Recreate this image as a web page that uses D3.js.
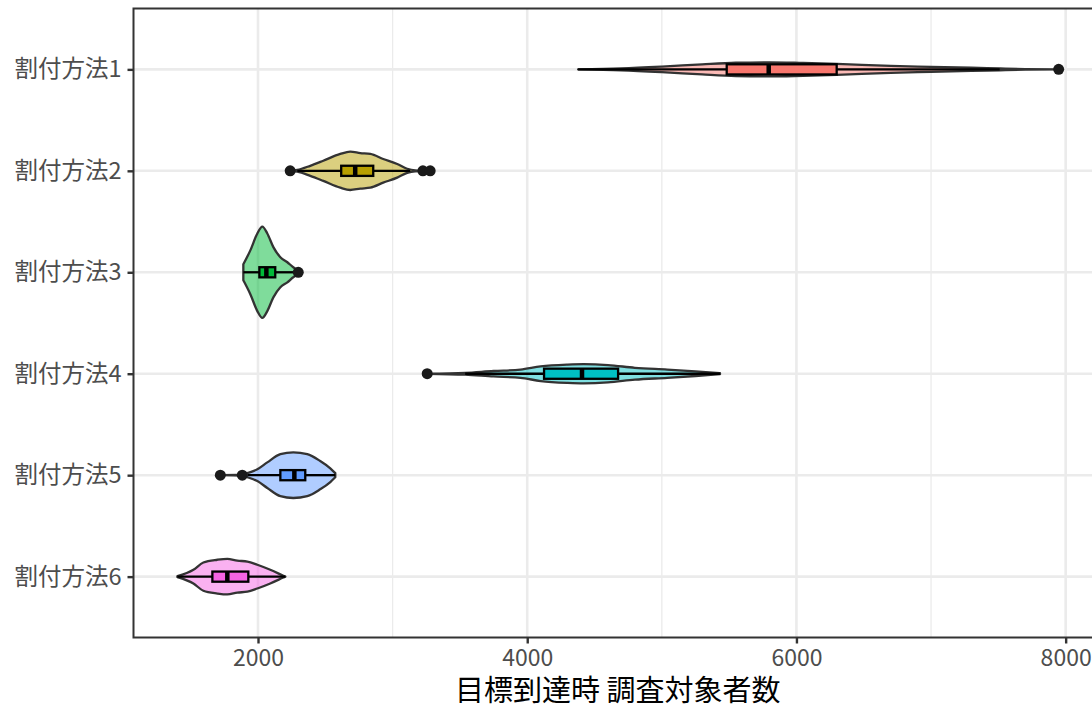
<!DOCTYPE html>
<html>
<head>
<meta charset="utf-8">
<script src="https://cdn.jsdelivr.net/npm/d3@7"></script>
<style>
  html, body { margin: 0; padding: 0; background: #ffffff; overflow: hidden; }
  svg { display: block; }
</style>
</head>
<body>
<script>
// ---------- data ----------
const categories = ["割付方法1", "割付方法2", "割付方法3", "割付方法4", "割付方法5", "割付方法6"];
const fillColors = ["#F8766D", "#B79F00", "#00BA38", "#00BFC4", "#619CFF", "#F564E3"];

const xTicks = [2000, 4000, 6000, 8000];
const xMinorTicks = [3000, 5000, 7000];
const xTitle = "目標到達時 調査対象者数";

// boxplot statistics per group
const q1Values       = [5482, 2618, 2010, 4125, 2166, 1661];
const medianValues   = [5794, 2722, 2062, 4407, 2270, 1772];
const q3Values       = [6299, 2856, 2128, 4675, 2351, 1928];
const whiskerLow     = [4378, 2292, 1891, 3539, 1921, 1401];
const whiskerHigh    = [7510, 3131, 2262, 5432, 2574, 2203];
const outlierValues  = [[7948], [2239, 3225, 3279], [2299], [3257], [1720, 1883], []];

// violin outlines: sample positions and relative density (1 = widest violin)
const violinPositions = [
  [4378, 4700, 5000, 5300, 5550, 5800, 6050, 6300, 6700, 7000, 7300, 7510, 7700, 7948],
  [2239, 2292, 2388, 2485, 2611, 2685, 2760, 2834, 2930, 3034, 3108, 3168, 3279],
  [1891, 1943, 1995, 2032, 2069, 2114, 2166, 2218, 2262, 2299],
  [3257, 3539, 3750, 3950, 4100, 4300, 4420, 4600, 4800, 5040, 5250, 5432],
  [1720, 1883, 1921, 1995, 2069, 2166, 2262, 2366, 2462, 2537, 2574],
  [1401, 1520, 1594, 1698, 1772, 1846, 1921, 1995, 2091, 2188, 2203]
];
const violinDensity = [
  [0, 0.02, 0.06, 0.11, 0.145, 0.155, 0.14, 0.12, 0.075, 0.055, 0.035, 0.02, 0.006, 0],
  [0, 0.02, 0.11, 0.22, 0.37, 0.42, 0.39, 0.37, 0.26, 0.15, 0.045, 0.01, 0],
  [0.175, 0.48, 0.85, 1.0, 0.85, 0.55, 0.33, 0.22, 0.11, 0.04],
  [0, 0.02, 0.06, 0.09, 0.16, 0.2, 0.21, 0.19, 0.13, 0.09, 0.05, 0.01],
  [0, 0.01, 0.045, 0.13, 0.28, 0.46, 0.5, 0.46, 0.31, 0.15, 0.045],
  [0.01, 0.15, 0.31, 0.37, 0.39, 0.35, 0.33, 0.26, 0.15, 0.02, 0]
];

// ---------- layout ----------
const W = 1092, H = 704;
const panel = { left: 133.5, top: 8.5, right: 1102, bottom: 637.5 };
const FONT = "'Noto Sans CJK JP', 'Noto Sans', sans-serif";

const svg = d3.select("body").append("svg")
  .attr("width", W).attr("height", H)
  .style("font-family", FONT);

const x = d3.scaleLinear().domain([1075, 8270]).range([panel.left, panel.right]);
const y = d3.scalePoint().domain(categories).range([panel.top, panel.bottom]).padding(0.6);
const step = y.step();
const halfMax = 0.45 * step;
const boxHalf = 0.05 * step;
const w = d3.scaleLinear().domain([0, 1]).range([0, halfMax]);

// panel background
svg.append("rect")
  .attr("x", panel.left).attr("y", panel.top)
  .attr("width", panel.right - panel.left).attr("height", panel.bottom - panel.top)
  .attr("fill", "#ffffff");

const grid = svg.append("g");
grid.selectAll(".vminor").data(xMinorTicks).join("line")
  .attr("x1", d => x(d)).attr("x2", d => x(d))
  .attr("y1", panel.top).attr("y2", panel.bottom)
  .attr("stroke", "#EBEBEB").attr("stroke-width", 1.3);
grid.selectAll(".vmajor").data(xTicks).join("line")
  .attr("x1", d => x(d)).attr("x2", d => x(d))
  .attr("y1", panel.top).attr("y2", panel.bottom)
  .attr("stroke", "#EBEBEB").attr("stroke-width", 2.6);
grid.selectAll(".hmajor").data(categories).join("line")
  .attr("x1", panel.left).attr("x2", panel.right)
  .attr("y1", d => y(d)).attr("y2", d => y(d))
  .attr("stroke", "#EBEBEB").attr("stroke-width", 2.6);

// violins
const marks = svg.append("g");
categories.forEach((cat, i) => {
  const cy = y(cat);
  const pts = violinPositions[i].map((v, j) => [v, violinDensity[i][j]]);
  const area = d3.area()
    .x(d => x(d[0]))
    .y0(d => cy - w(d[1]))
    .y1(d => cy + w(d[1]))
    .curve(d3.curveMonotoneX);
  marks.append("path")
    .attr("d", area(pts))
    .attr("fill", fillColors[i]).attr("fill-opacity", 0.5)
    .attr("stroke", "#333333").attr("stroke-width", 2.3)
    .attr("stroke-linejoin", "round");
});

// boxplots
categories.forEach((cat, i) => {
  const cy = y(cat);
  const g = marks.append("g");
  g.append("line")
    .attr("x1", x(whiskerLow[i])).attr("x2", x(q1Values[i]))
    .attr("y1", cy).attr("y2", cy)
    .attr("stroke", "#000").attr("stroke-width", 2.3);
  g.append("line")
    .attr("x1", x(q3Values[i])).attr("x2", x(whiskerHigh[i]))
    .attr("y1", cy).attr("y2", cy)
    .attr("stroke", "#000").attr("stroke-width", 2.3);
  g.append("rect")
    .attr("x", x(q1Values[i])).attr("y", cy - boxHalf)
    .attr("width", x(q3Values[i]) - x(q1Values[i])).attr("height", 2 * boxHalf)
    .attr("fill", fillColors[i])
    .attr("stroke", "#000").attr("stroke-width", 2.3);
  g.append("line")
    .attr("x1", x(medianValues[i])).attr("x2", x(medianValues[i]))
    .attr("y1", cy - boxHalf).attr("y2", cy + boxHalf)
    .attr("stroke", "#000").attr("stroke-width", 4.5);
  g.selectAll("circle").data(outlierValues[i]).join("circle")
    .attr("cx", d => x(d)).attr("cy", cy).attr("r", 5.5)
    .attr("fill", "#1a1a1a");
});

// panel border
svg.append("rect")
  .attr("x", panel.left).attr("y", panel.top)
  .attr("width", panel.right - panel.left).attr("height", panel.bottom - panel.top)
  .attr("fill", "none").attr("stroke", "#333333").attr("stroke-width", 2);

// x axis
const xAxis = d3.axisBottom(x).tickValues(xTicks).tickSize(6).tickPadding(6).tickFormat(d3.format("d"));
const gx = svg.append("g").attr("transform", `translate(0,${panel.bottom})`).call(xAxis);
gx.select(".domain").remove();
gx.selectAll(".tick line").attr("stroke", "#333333").attr("stroke-width", 2.4);
gx.selectAll(".tick text")
  .attr("fill", "#4D4D4D").style("font-size", "23px").style("font-family", FONT);

// y axis
const yAxis = d3.axisLeft(y).tickSize(6).tickPadding(6);
const gy = svg.append("g").attr("transform", `translate(${panel.left},0)`).call(yAxis);
gy.select(".domain").remove();
gy.selectAll(".tick line").attr("stroke", "#333333").attr("stroke-width", 2.4);
gy.selectAll(".tick text")
  .attr("fill", "#4D4D4D").style("font-size", "23.5px").style("font-family", FONT);

// x title
svg.append("text")
  .attr("x", (panel.left + panel.right) / 2).attr("y", 688)
  .attr("text-anchor", "middle").attr("dominant-baseline", "central")
  .attr("fill", "#000").style("font-size", "29px")
  .text(xTitle);
</script>
</body>
</html>
